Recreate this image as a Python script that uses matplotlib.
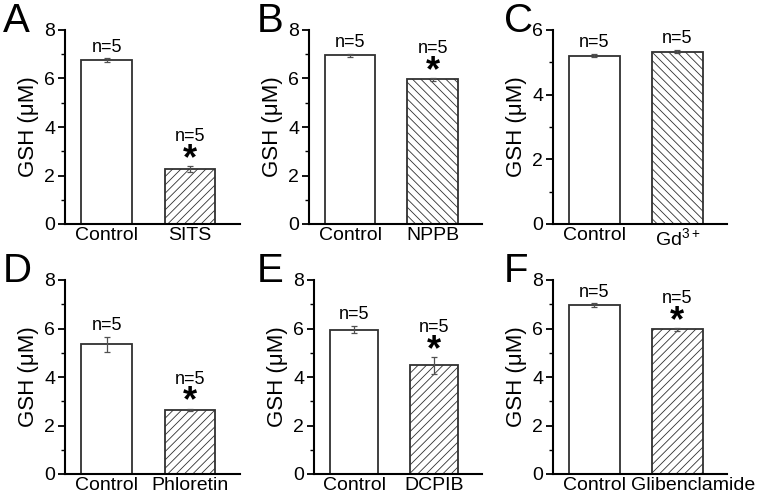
import numpy as np
import matplotlib
matplotlib.use("Agg")
from matplotlib import pyplot as plt
from matplotlib.transforms import ScaledTranslation

plt.rcParams['font.family'] = ['Liberation Sans', 'DejaVu Sans']
plt.rcParams['mathtext.fontset'] = 'custom'
plt.rcParams['mathtext.rm'] = 'Liberation Sans'
plt.rcParams['mathtext.it'] = 'Liberation Sans:italic'
plt.rcParams['hatch.color'] = '#b4b4b4'
plt.rcParams['hatch.linewidth'] = 0.6

# data per panel
letters = ['A', 'B', 'C', 'D', 'E', 'F']
treatments = ['SITS', 'NPPB', 'Gd$^{3+}$', 'Phloretin', 'DCPIB', 'Glibenclamide']
control_mean = [6.75, 6.95, 5.20, 5.35, 5.95, 6.97]
control_err = [0.08, 0.08, 0.05, 0.30, 0.15, 0.07]
treat_mean = [2.28, 5.97, 5.33, 2.65, 4.48, 5.97]
treat_err = [0.12, 0.06, 0.05, 0.05, 0.35, 0.06]
significant = [True, True, False, True, True, True]
ymax = [8, 8, 6, 8, 8, 8]
hatches = ['////', '\\\\\\\\', '\\\\\\\\', '////', '////', '////']

W, H = 771, 500
fig = plt.figure(figsize=(W / 100, H / 100), dpi=100)

# axes boxes in pixels: left, top, right, bottom
boxes = [(65, 30, 240, 224), (309, 30, 482, 224), (553, 30, 727, 224),
         (65, 280, 240, 474), (314, 280, 482, 474), (553, 280, 727, 474)]
letter_pos = [(3, 2), (257, 2), (504, 2), (3, 252), (257, 252), (504, 252)]

for i in range(6):
    l, t, r, b = boxes[i]
    ax = fig.add_axes([l / W, 1 - b / H, (r - l) / W, (b - t) / H])
    x = np.array([1, 2])
    vals = [control_mean[i], treat_mean[i]]
    errs = [control_err[i], treat_err[i]]
    bars = ax.bar(x, vals, width=0.61, color='white', edgecolor='#303030', linewidth=1.3, zorder=2)
    bars[1].set_hatch(hatches[i])
    ax.errorbar(x, vals, yerr=errs, fmt='none', ecolor='#505050', elinewidth=0.9,
                capsize=2, capthick=0.9, zorder=3)
    for xi, v, e in zip(x, vals, errs):
        if xi == 2 and significant[i]:
            ax.annotate('*', (xi, v + e), xytext=(0, -8), textcoords='offset points',
                        ha='center', va='bottom', fontsize=26, fontweight='bold')
            ax.annotate('n=5', (xi, v + e), xytext=(0, 15), textcoords='offset points',
                        ha='center', va='bottom', fontsize=13)
        else:
            ax.annotate('n=5', (xi, v + e), xytext=(0, 2), textcoords='offset points',
                        ha='center', va='bottom', fontsize=13)
    ax.set_xlim(0.5, 2.6)
    ax.set_ylim(0, ymax[i])
    ax.set_yticks(np.arange(0, ymax[i] + 1, 2))
    ax.set_yticks(np.arange(1, ymax[i], 2), minor=True)
    ax.set_xticks(x)
    ax.set_xticklabels(['Control', treatments[i]])
    ax.tick_params(axis='x', length=0, labelsize=14, pad=2)
    ax.tick_params(axis='y', which='major', length=5, width=1.3, labelsize=14, direction='out', pad=2)
    ax.tick_params(axis='y', which='minor', length=3, width=1.0, direction='out')
    for s in ['top', 'right']:
        ax.spines[s].set_visible(False)
    for s in ['left', 'bottom']:
        ax.spines[s].set_linewidth(1.5)
    ax.set_ylabel('GSH (\u03bcM)', fontsize=16, labelpad=4)
    if treatments[i] == 'Glibenclamide':
        # long label sits right of its bar in the original
        lbl = ax.get_xticklabels()[1]
        lbl.set_transform(lbl.get_transform() + ScaledTranslation(0.16, 0, fig.dpi_scale_trans))
    fig.text(letter_pos[i][0] / W, 1 - letter_pos[i][1] / H, letters[i],
             fontsize=29, ha='left', va='top')

fig.savefig('out.png', dpi=100)
